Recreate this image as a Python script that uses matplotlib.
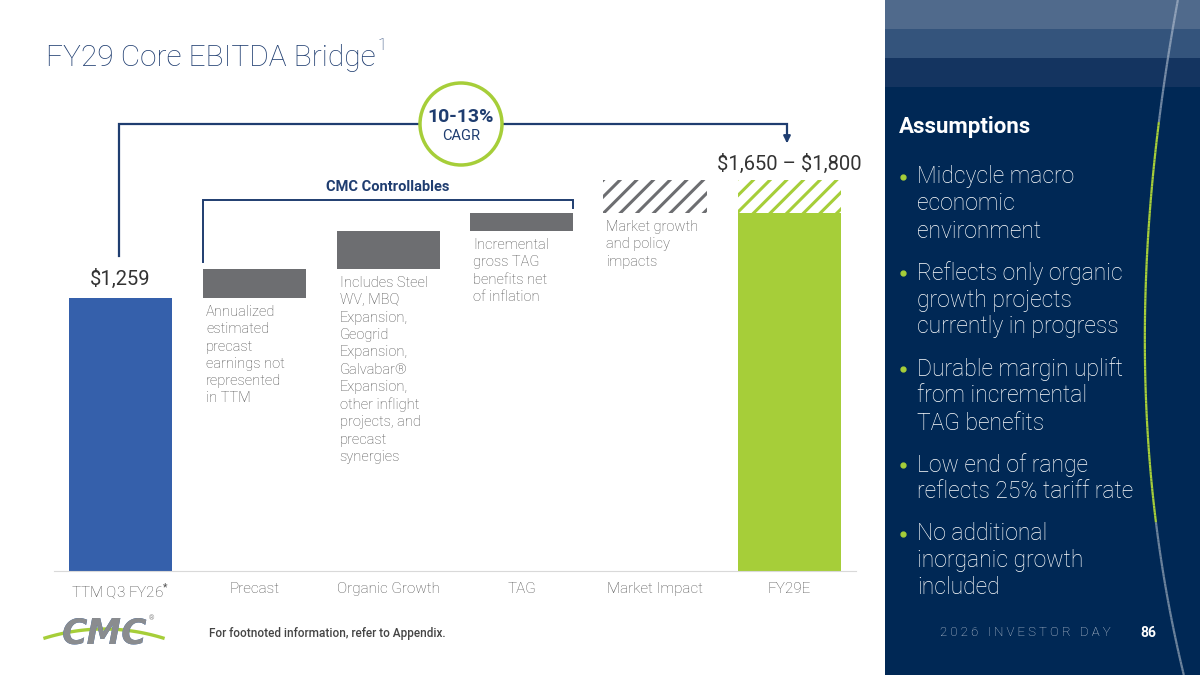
import numpy as np
import matplotlib
matplotlib.use("Agg")
import matplotlib.pyplot as plt
from matplotlib.patches import Rectangle, Circle

plt.rcParams["font.family"] = ["Roboto", "DejaVu Sans"]
plt.rcParams["hatch.linewidth"] = 2.2
plt.rcParams["mathtext.fontset"] = "custom"
plt.rcParams["mathtext.rm"] = "Roboto"

# ── data ────────────────────────────────────────────────────────────────
categories = ["TTM Q3 FY26$^{*}$", "Precast", "Organic Growth", "TAG",
              "Market Impact", "FY29E"]
ttm_value = 1259
step_values = [133, 175, 83]          # precast, organic growth, TAG
market_range = 150                     # market impact (hatched range)
fy29_low, fy29_high = 1650, 1800

notes = [
    "Annualized\nestimated\nprecast\nearnings not\nrepresented\nin TTM",
    "Includes Steel\nWV, MBQ\nExpansion,\nGeogrid\nExpansion,\nGalvabar\u00ae\nExpansion,\nother inflight\nprojects, and\nprecast\nsynergies",
    "Incremental\ngross TAG\nbenefits net\nof inflation",
    "Market growth\nand policy\nimpacts",
]
bullets = [
    ["Midcycle macro", "economic", "environment"],
    ["Reflects only organic", "growth projects", "currently in progress"],
    ["Durable margin uplift", "from incremental", "TAG benefits"],
    ["Low end of range", "reflects 25% tariff rate"],
    ["No additional", "inorganic growth", "included"],
]

# ── styling ─────────────────────────────────────────────────────────────
BLUE = "#3560ab"
GRAY = "#6d6e71"
GREEN = "#a6ce39"
NAVY = "#1f3d70"
PANEL = "#002855"
TXT = "#505050"

W, H = 1200, 675
fig = plt.figure(figsize=(12, 6.75), dpi=100)
fig.patch.set_facecolor("white")

# chart axes: zero at y=571 px, 0.217 px per $M
y0_px, top_px = 571, 150
px_per_unit = 0.217
ax = fig.add_axes([54 / W, 1 - y0_px / H, (856 - 54) / W, (y0_px - top_px) / H])
ax.set_xlim(54, 856)
ax.set_ylim(0, (y0_px - top_px) / px_per_unit)
ax.patch.set_alpha(0)

xpos = [120.5, 254.5, 388, 521.5, 655, 789.5]
bw = 103

# waterfall
ax.bar(xpos[0], ttm_value, width=bw, color=BLUE, linewidth=0)
bottoms = ttm_value + np.concatenate([[0], np.cumsum(step_values)[:-1]])
ax.bar(xpos[1:4], step_values, bottom=bottoms, width=bw, color=GRAY, linewidth=0)
market_bottom = ttm_value + sum(step_values)
ax.bar(xpos[4], market_range, bottom=market_bottom, width=bw + 1,
       facecolor="white", edgecolor=GRAY, hatch="//", linewidth=0)
ax.bar(xpos[5], fy29_low, width=bw, color=GREEN, linewidth=0)
ax.bar(xpos[5], fy29_high - fy29_low, bottom=fy29_low, width=bw,
       facecolor="white", edgecolor=GREEN, hatch="//", linewidth=0)

ax.text(xpos[0], ttm_value + 40, f"\\${ttm_value:,}", ha="center", va="bottom",
        fontsize=14.5, color="#333333")
ax.text(xpos[5], fy29_high + 30, f"\\${fy29_low:,} \u2013 \\${fy29_high:,}",
        ha="center", va="bottom", fontsize=14.5, color="#333333")

# notes under floating bars
note_tops = list(bottoms) + [market_bottom]
for i, (txt, b) in enumerate(zip(notes, note_tops)):
    ax.text(xpos[i + 1] - bw / 2 + 3, b - 33, txt, ha="left", va="top",
            fontsize=10.5, color=TXT, fontweight="light", linespacing=1.3)

for s in ("left", "right", "top"):
    ax.spines[s].set_visible(False)
ax.spines["bottom"].set_color("#d9d9d9")
ax.set_yticks([])
ax.set_xticks(xpos)
ax.set_xticklabels(categories, fontsize=11, color=TXT, fontweight="light")
ax.tick_params(axis="x", length=0, pad=8)

# ── overlay in pixel coordinates ────────────────────────────────────────
ov = fig.add_axes([0, 0, 1, 1], zorder=5)
ov.set_xlim(0, W)
ov.set_ylim(H, 0)
ov.axis("off")
ov.patch.set_alpha(0)

ov.text(46, 58, "FY29 Core EBITDA Bridge", fontsize=21.5, color=NAVY,
        va="center", ha="left", fontweight="light")
ov.text(378, 45, "1", fontsize=12, color=NAVY, va="center", ha="left",
        fontweight="light")

# CAGR bracket
ov.plot([119, 119, 787, 787], [256, 124, 124, 138], color=NAVY, lw=1.6,
        solid_joinstyle="miter")
ov.annotate("", xy=(787, 146), xytext=(787, 136),
            arrowprops=dict(arrowstyle="-|>", color=NAVY, lw=1.6,
                            mutation_scale=10))
ov.add_patch(Circle((461, 124), 41, facecolor="white", edgecolor=GREEN,
                    lw=2.5, zorder=3))
ov.text(461, 117, "10-13%", fontsize=14, fontweight="bold", color=NAVY,
        ha="center", va="center", zorder=4)
ov.text(461, 136, "CAGR", fontsize=10.5, color=NAVY, ha="center",
        va="center", zorder=4)

# CMC controllables bracket
ov.plot([203, 203, 573, 573], [262, 200, 200, 208], color=NAVY, lw=1.4,
        solid_joinstyle="miter")
ov.text(388, 187, "CMC Controllables", fontsize=10.5, fontweight="bold",
        color=NAVY, ha="center", va="center")

# logo
top_clip = Rectangle((40, 600), 130, 34, transform=ov.transData)
bot_clip = Rectangle((40, 634), 130, 30, transform=ov.transData)
for col, clip in [("#3063b0", top_clip), ("#8a8c8f", bot_clip)]:
    t = ov.text(105, 634, "CMC", fontsize=25, fontweight="heavy", style="italic",
                color=col, ha="center", va="center", family="DejaVu Sans")
    t.set_clip_path(clip)
arc_x = np.linspace(45, 163, 60)
arc_y = 638 - 9 * (1 - ((arc_x - 104) / 59) ** 2)
ov.plot(arc_x, arc_y, color=GREEN, lw=2.4)
ov.text(149, 619, "\u00ae", fontsize=5, color="#888888", ha="left", va="center")
ov.text(209, 634, "For footnoted information, refer to Appendix.",
        fontsize=8.5, color="#444444", ha="left", va="center",
        fontweight="medium")

# right panel
ov.add_patch(Rectangle((885, 0), W - 885, H, facecolor=PANEL, lw=0))
for y, c in [(0, "#506a8c"), (29, "#34547c"), (58, "#143460")]:
    ov.add_patch(Rectangle((885, y), W - 885, 29, facecolor=c, lw=0))

ctrl_y = np.array([0, 200, 380, 500, 600, 675])
ctrl_x = np.array([1178, 1150, 1147, 1152, 1168, 1184])
cy = np.linspace(0, 675, 200)
cx = np.polyval(np.polyfit(ctrl_y, ctrl_x, 3), cy)
for i in range(len(cy) - 1):
    t = cy[i]
    if t < 120:
        col, a = "#b8c4d4", 0.6
    elif t < 520:
        col, a = GREEN, 1.0
    else:
        col, a = "#9aa9ba", 0.7
    ov.plot(cx[i:i + 2], cy[i:i + 2], color=col, alpha=a, lw=1.6,
            solid_capstyle="butt")

ov.text(899, 127, "Assumptions", fontsize=16, fontweight="bold",
        color="white", ha="left", va="center")

y = 177
line_h = 27
for group in bullets:
    ov.plot(903, y, "o", color=GREEN, ms=3.5)
    for line in group:
        ov.text(917, y, line, fontsize=16.5, color="white", ha="left",
                va="center", fontweight="light")
        y += line_h
    y += 15

ov.text(940, 633, "2 0 2 6   I N V E S T O R   D A Y", fontsize=9.5,
        color="#c8d0dc", ha="left", va="center", fontweight="light")
ov.text(1148, 633, "86", fontsize=10, fontweight="bold", color="white",
        ha="center", va="center")

fig.savefig("out.png", dpi=100, facecolor="white")
